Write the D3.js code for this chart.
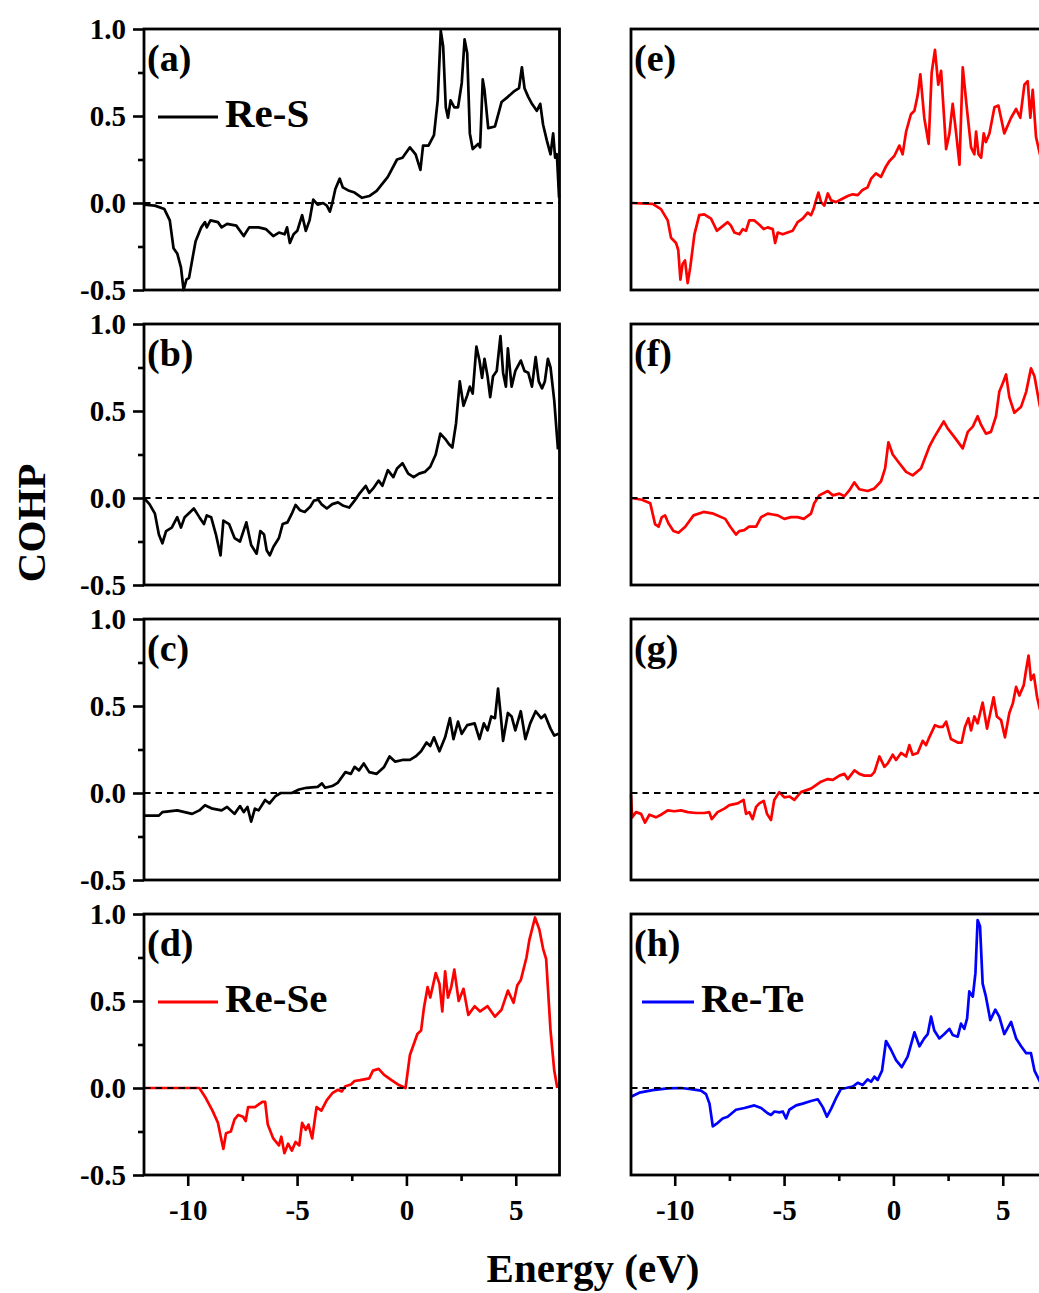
<!DOCTYPE html>
<html>
<head>
<meta charset="utf-8">
<script src="https://cdn.jsdelivr.net/npm/d3@7"></script>
<style>
body { margin: 0; background: #fff; overflow: hidden; }
text { font-family: "Liberation Serif", "Times New Roman", serif; font-weight: bold; fill: #000; }
</style>
</head>
<body>
<svg id="chart"></svg>
<script>
let width = 1039;
let height = 1293;

// layout of the 4x2 grid of panels
let colLeft = [144, 631];
let plotWidth = 415.5;
let rowTop = [29, 324, 619, 914];
let plotHeight = 261;

// axes
let xDomain = [-12, 7];
let yDomain = [-0.5, 1.0];
let xMajor = [-10, -5, 0, 5];
let xMinor = [-7.5, -2.5, 2.5];
let yMajor = [-0.5, 0, 0.5, 1.0];
let yMinor = [-0.25, 0.25, 0.75];

let panelLabels = ["(a)", "(b)", "(c)", "(d)", "(e)", "(f)", "(g)", "(h)"];
let panelColors = ["#000000", "#000000", "#000000", "#ff0000", "#ff0000", "#ff0000", "#ff0000", "#0000ff"];
let legendNames = {0: "Re-S", 3: "Re-Se", 7: "Re-Te"};

// COHP curves, [energy (eV), COHP]
let cohpA = [[-12,-0.01],[-11.5,-0.015],[-11.07,-0.035],[-10.82,-0.10],[-10.65,-0.26],[-10.48,-0.29],[-10.31,-0.37],[-10.19,-0.50],[-10.06,-0.44],[-9.94,-0.43],[-9.8,-0.33],[-9.64,-0.22],[-9.38,-0.14],[-9.21,-0.11],[-9.13,-0.14],[-8.96,-0.10],[-8.62,-0.11],[-8.45,-0.14],[-8.2,-0.12],[-7.78,-0.13],[-7.44,-0.19],[-7.19,-0.14],[-6.76,-0.14],[-6.43,-0.15],[-6.09,-0.19],[-5.83,-0.17],[-5.57,-0.18],[-5.46,-0.14],[-5.33,-0.23],[-5.16,-0.18],[-4.99,-0.16],[-4.77,-0.07],[-4.6,-0.16],[-4.43,-0.10],[-4.26,0.02],[-4.06,-0.01],[-3.81,0.0],[-3.64,-0.015],[-3.5,-0.05],[-3.39,0.0],[-3.25,0.08],[-3.05,0.14],[-2.91,0.09],[-2.62,0.07],[-2.37,0.06],[-2.03,0.03],[-1.7,0.04],[-1.36,0.07],[-0.85,0.15],[-0.43,0.25],[-0.18,0.26],[0.16,0.32],[0.42,0.28],[0.64,0.19],[0.76,0.33],[1.01,0.33],[1.26,0.39],[1.43,0.59],[1.57,0.99],[1.68,0.90],[1.8,0.55],[1.9,0.49],[2.02,0.59],[2.19,0.55],[2.36,0.55],[2.53,0.69],[2.66,0.94],[2.78,0.86],[2.9,0.40],[3.03,0.31],[3.29,0.34],[3.37,0.32],[3.49,0.71],[3.57,0.65],[3.74,0.43],[4.05,0.44],[4.35,0.58],[4.64,0.61],[4.9,0.64],[5.15,0.66],[5.28,0.78],[5.4,0.66],[5.57,0.61],[5.74,0.57],[5.96,0.53],[6.12,0.57],[6.25,0.45],[6.42,0.36],[6.59,0.28],[6.71,0.40],[6.8,0.26],[6.88,0.28],[6.98,0.03]];

let cohpB = [[-12,0],[-11.75,-0.035],[-11.5,-0.09],[-11.32,-0.21],[-11.16,-0.26],[-10.99,-0.19],[-10.73,-0.17],[-10.48,-0.11],[-10.31,-0.17],[-10.14,-0.11],[-9.97,-0.09],[-9.72,-0.06],[-9.47,-0.11],[-9.26,-0.15],[-9.13,-0.10],[-8.93,-0.11],[-8.71,-0.21],[-8.5,-0.33],[-8.37,-0.13],[-8.11,-0.15],[-7.86,-0.23],[-7.61,-0.25],[-7.32,-0.14],[-7.1,-0.27],[-6.85,-0.32],[-6.68,-0.19],[-6.51,-0.21],[-6.39,-0.30],[-6.25,-0.33],[-6.08,-0.28],[-5.83,-0.23],[-5.66,-0.15],[-5.44,-0.14],[-5.24,-0.09],[-5.07,-0.04],[-4.87,-0.07],[-4.65,-0.08],[-4.4,-0.05],[-4.23,-0.015],[-4.03,-0.01],[-3.89,-0.035],[-3.64,-0.06],[-3.39,-0.035],[-3.13,-0.025],[-2.88,-0.045],[-2.62,-0.055],[-2.37,-0.015],[-2.12,0.03],[-1.86,0.07],[-1.7,0.03],[-1.49,0.06],[-1.27,0.10],[-1.1,0.07],[-0.85,0.16],[-0.6,0.12],[-0.43,0.17],[-0.18,0.20],[0.08,0.14],[0.33,0.12],[0.58,0.14],[0.84,0.15],[1.09,0.18],[1.34,0.25],[1.55,0.37],[1.77,0.34],[1.94,0.31],[2.1,0.29],[2.27,0.43],[2.44,0.67],[2.61,0.53],[2.78,0.59],[2.9,0.64],[3.03,0.60],[3.2,0.87],[3.34,0.79],[3.46,0.69],[3.57,0.80],[3.71,0.70],[3.83,0.58],[3.96,0.70],[4.13,0.73],[4.3,0.93],[4.42,0.72],[4.55,0.64],[4.64,0.86],[4.81,0.64],[4.98,0.73],[5.23,0.79],[5.4,0.73],[5.57,0.72],[5.74,0.64],[5.91,0.81],[6.05,0.67],[6.2,0.63],[6.33,0.67],[6.47,0.80],[6.59,0.75],[6.76,0.56],[6.93,0.28]];

let cohpC = [[-12,-0.13],[-11.32,-0.13],[-11.16,-0.11],[-10.48,-0.10],[-10.14,-0.11],[-9.8,-0.12],[-9.47,-0.10],[-9.21,-0.07],[-8.87,-0.09],[-8.45,-0.10],[-8.2,-0.08],[-7.86,-0.12],[-7.61,-0.075],[-7.44,-0.11],[-7.27,-0.08],[-7.1,-0.165],[-6.93,-0.09],[-6.76,-0.10],[-6.46,-0.04],[-6.26,-0.06],[-6.0,-0.02],[-5.75,0.0],[-5.24,0.0],[-4.91,0.02],[-4.57,0.03],[-4.06,0.035],[-3.86,0.055],[-3.72,0.03],[-3.39,0.04],[-3.13,0.06],[-2.79,0.12],[-2.54,0.11],[-2.37,0.15],[-2.17,0.13],[-1.95,0.17],[-1.7,0.12],[-1.36,0.11],[-1.02,0.15],[-0.77,0.21],[-0.51,0.18],[-0.18,0.19],[0.16,0.19],[0.42,0.21],[0.67,0.24],[0.92,0.29],[1.09,0.27],[1.26,0.32],[1.51,0.24],[1.77,0.32],[1.99,0.43],[2.15,0.31],[2.36,0.41],[2.53,0.34],[2.78,0.39],[3.12,0.40],[3.34,0.31],[3.54,0.40],[3.71,0.36],[3.88,0.44],[4.05,0.43],[4.19,0.60],[4.31,0.45],[4.42,0.30],[4.64,0.46],[4.81,0.44],[4.98,0.36],[5.23,0.47],[5.44,0.31],[5.66,0.40],[5.91,0.47],[6.16,0.43],[6.33,0.45],[6.59,0.37],[6.76,0.33],[6.96,0.34]];

let cohpD = [[-12,0],[-9.47,0],[-9.21,-0.05],[-8.87,-0.13],[-8.62,-0.20],[-8.49,-0.28],[-8.37,-0.35],[-8.25,-0.26],[-8.03,-0.25],[-7.86,-0.18],[-7.69,-0.155],[-7.47,-0.165],[-7.35,-0.19],[-7.24,-0.11],[-6.93,-0.11],[-6.59,-0.08],[-6.46,-0.08],[-6.34,-0.21],[-6.09,-0.29],[-5.83,-0.33],[-5.72,-0.28],[-5.58,-0.375],[-5.41,-0.32],[-5.24,-0.36],[-5.07,-0.31],[-4.9,-0.33],[-4.77,-0.20],[-4.6,-0.24],[-4.48,-0.21],[-4.31,-0.29],[-4.11,-0.11],[-3.89,-0.13],[-3.64,-0.07],[-3.39,-0.03],[-3.13,-0.01],[-2.96,-0.02],[-2.79,0.01],[-2.54,0.02],[-2.37,0.04],[-2.12,0.045],[-1.7,0.055],[-1.53,0.10],[-1.27,0.11],[-1.02,0.075],[-0.68,0.045],[-0.34,0.017],[-0.04,0.0],[0.16,0.19],[0.36,0.26],[0.5,0.31],[0.67,0.33],[0.8,0.46],[0.97,0.58],[1.09,0.52],[1.34,0.66],[1.51,0.60],[1.64,0.44],[1.77,0.67],[1.9,0.52],[2.05,0.58],[2.19,0.68],[2.39,0.50],[2.61,0.57],[2.83,0.42],[3.12,0.47],[3.37,0.44],[3.71,0.47],[4.05,0.41],[4.35,0.45],[4.64,0.56],[4.9,0.49],[5.07,0.59],[5.23,0.62],[5.49,0.75],[5.62,0.85],[5.88,0.98],[6.08,0.91],[6.25,0.80],[6.39,0.74],[6.59,0.33],[6.76,0.10],[6.9,0.0]];

let cohpE = [[-12,0],[-11.01,-0.005],[-10.63,-0.035],[-10.32,-0.10],[-10.17,-0.20],[-9.94,-0.23],[-9.84,-0.27],[-9.74,-0.44],[-9.64,-0.35],[-9.53,-0.33],[-9.41,-0.46],[-9.29,-0.37],[-9.1,-0.18],[-8.88,-0.07],[-8.65,-0.065],[-8.34,-0.09],[-8.07,-0.16],[-7.88,-0.14],[-7.58,-0.11],[-7.43,-0.13],[-7.27,-0.17],[-7.04,-0.18],[-6.89,-0.15],[-6.74,-0.16],[-6.59,-0.10],[-6.36,-0.10],[-6.13,-0.125],[-5.93,-0.15],[-5.75,-0.14],[-5.52,-0.15],[-5.41,-0.23],[-5.29,-0.17],[-5.06,-0.18],[-4.84,-0.17],[-4.61,-0.16],[-4.38,-0.11],[-4.15,-0.09],[-3.92,-0.055],[-3.77,-0.07],[-3.65,-0.035],[-3.54,0.015],[-3.43,0.06],[-3.31,0.005],[-3.16,-0.015],[-3.0,0.055],[-2.85,0.015],[-2.63,0.005],[-2.4,0.02],[-2.09,0.04],[-1.86,0.05],[-1.63,0.045],[-1.41,0.075],[-1.18,0.09],[-1.02,0.14],[-0.8,0.17],[-0.57,0.15],[-0.34,0.21],[-0.19,0.24],[0.04,0.27],[0.27,0.33],[0.42,0.28],[0.58,0.41],[0.8,0.51],[0.96,0.53],[1.11,0.62],[1.23,0.74],[1.41,0.49],[1.61,0.34],[1.75,0.75],[1.9,0.88],[2.05,0.68],[2.18,0.76],[2.41,0.31],[2.56,0.40],[2.71,0.57],[2.86,0.41],[3.02,0.22],[3.17,0.78],[3.37,0.53],[3.55,0.32],[3.7,0.28],[3.78,0.41],[3.89,0.28],[4.01,0.26],[4.13,0.40],[4.23,0.35],[4.39,0.40],[4.62,0.55],[4.8,0.56],[5.07,0.40],[5.38,0.49],[5.61,0.54],[5.8,0.49],[5.99,0.68],[6.14,0.70],[6.26,0.49],[6.37,0.65],[6.52,0.38],[6.7,0.28],[7.0,0.20]];

let cohpF = [[-12,0],[-11.5,-0.01],[-11.12,-0.03],[-10.9,-0.15],[-10.74,-0.165],[-10.59,-0.11],[-10.44,-0.10],[-10.29,-0.145],[-10.06,-0.19],[-9.83,-0.20],[-9.52,-0.165],[-9.14,-0.10],[-8.68,-0.08],[-8.23,-0.09],[-7.69,-0.12],[-7.46,-0.165],[-7.2,-0.21],[-7.05,-0.19],[-6.82,-0.185],[-6.6,-0.165],[-6.28,-0.165],[-6.05,-0.11],[-5.75,-0.09],[-5.52,-0.095],[-5.29,-0.10],[-4.99,-0.12],[-4.68,-0.11],[-4.38,-0.11],[-4.1,-0.12],[-3.77,-0.09],[-3.62,-0.03],[-3.39,0.015],[-3.0,0.04],[-2.77,0.015],[-2.47,0.025],[-2.24,0.01],[-2.01,0.045],[-1.79,0.09],[-1.56,0.05],[-1.18,0.04],[-0.87,0.055],[-0.57,0.095],[-0.38,0.17],[-0.23,0.32],[-0.03,0.25],[0.27,0.20],[0.58,0.15],[0.88,0.13],[1.26,0.17],[1.64,0.295],[1.87,0.35],[2.3,0.44],[2.48,0.40],[2.79,0.35],[3.17,0.285],[3.4,0.38],[3.63,0.41],[3.85,0.47],[4.01,0.42],[4.23,0.37],[4.46,0.38],[4.69,0.47],[4.84,0.61],[5.0,0.66],[5.15,0.71],[5.3,0.58],[5.53,0.49],[5.84,0.525],[6.07,0.61],[6.29,0.745],[6.45,0.70],[6.7,0.525],[7.0,0.45]];

let cohpG = [[-12,-0.01],[-11.95,-0.14],[-11.77,-0.11],[-11.54,-0.12],[-11.36,-0.17],[-11.16,-0.125],[-10.86,-0.14],[-10.63,-0.125],[-10.32,-0.10],[-10.02,-0.105],[-9.71,-0.10],[-9.41,-0.11],[-9.03,-0.115],[-8.65,-0.115],[-8.42,-0.11],[-8.31,-0.15],[-8.04,-0.11],[-7.73,-0.09],[-7.5,-0.07],[-7.12,-0.06],[-6.85,-0.04],[-6.74,-0.12],[-6.59,-0.11],[-6.44,-0.15],[-6.28,-0.08],[-6.13,-0.06],[-5.93,-0.045],[-5.78,-0.12],[-5.6,-0.155],[-5.45,-0.04],[-5.22,0.005],[-4.99,-0.025],[-4.76,-0.02],[-4.53,-0.04],[-4.23,0.005],[-3.77,0.025],[-3.31,0.065],[-3.0,0.08],[-2.77,0.075],[-2.47,0.10],[-2.24,0.11],[-2.09,0.08],[-1.78,0.13],[-1.56,0.11],[-1.33,0.10],[-1.02,0.10],[-0.87,0.12],[-0.64,0.21],[-0.41,0.15],[-0.26,0.17],[-0.03,0.22],[0.12,0.19],[0.35,0.23],[0.58,0.21],[0.73,0.275],[0.88,0.22],[1.11,0.23],[1.34,0.30],[1.49,0.275],[1.64,0.32],[1.9,0.39],[2.1,0.38],[2.25,0.38],[2.41,0.41],[2.63,0.31],[2.94,0.29],[3.12,0.29],[3.27,0.38],[3.43,0.43],[3.55,0.36],[3.7,0.44],[3.85,0.40],[4.08,0.52],[4.28,0.37],[4.43,0.46],[4.58,0.55],[4.73,0.44],[4.92,0.42],[5.1,0.32],[5.3,0.46],[5.46,0.515],[5.61,0.61],[5.76,0.56],[5.96,0.62],[6.07,0.71],[6.18,0.79],[6.29,0.65],[6.42,0.68],[6.57,0.55],[6.7,0.48],[7.0,0.42]];

let cohpH = [[-12,-0.05],[-11.62,-0.027],[-11.01,-0.012],[-10.32,-0.002],[-9.71,0.0],[-9.26,-0.006],[-8.8,-0.015],[-8.57,-0.035],[-8.41,-0.09],[-8.26,-0.22],[-8.03,-0.20],[-7.81,-0.175],[-7.58,-0.165],[-7.2,-0.125],[-6.81,-0.115],[-6.36,-0.10],[-6.05,-0.115],[-5.75,-0.145],[-5.6,-0.155],[-5.44,-0.135],[-5.22,-0.14],[-5.06,-0.135],[-4.91,-0.175],[-4.76,-0.125],[-4.45,-0.10],[-4.15,-0.09],[-3.77,-0.075],[-3.46,-0.065],[-3.23,-0.11],[-3.04,-0.165],[-2.85,-0.12],[-2.63,-0.06],[-2.4,-0.005],[-2.17,0.0],[-1.86,0.008],[-1.63,0.03],[-1.41,0.017],[-1.18,0.05],[-1.02,0.036],[-0.87,0.065],[-0.72,0.046],[-0.52,0.10],[-0.34,0.27],[-0.11,0.22],[0.12,0.16],[0.38,0.12],[0.65,0.18],[0.96,0.32],[1.19,0.24],[1.41,0.285],[1.57,0.31],[1.72,0.41],[1.87,0.33],[2.1,0.285],[2.33,0.31],[2.56,0.34],[2.71,0.305],[2.94,0.295],[3.09,0.37],[3.24,0.34],[3.37,0.40],[3.47,0.555],[3.63,0.525],[3.75,0.66],[3.85,0.965],[3.96,0.93],[4.08,0.60],[4.23,0.525],[4.43,0.39],[4.66,0.45],[4.84,0.41],[5.07,0.31],[5.38,0.38],[5.61,0.285],[5.84,0.24],[6.07,0.20],[6.29,0.20],[6.45,0.10],[6.7,0.036],[7.0,0.0]];

let panelData = [cohpA, cohpB, cohpC, cohpD, cohpE, cohpF, cohpG, cohpH];

let svg = d3.select("#chart")
    .attr("width", width)
    .attr("height", height);

let fmtY = d => d.toFixed(1);
let fmtX = d => String(d);

panelData.forEach((data, i) => {
    let col = Math.floor(i / 4);
    let row = i % 4;
    let x0 = colLeft[col];
    let y0 = rowTop[row];

    let xScale = d3.scaleLinear().domain(xDomain).range([x0, x0 + plotWidth]);
    let yScale = d3.scaleLinear().domain(yDomain).range([y0 + plotHeight, y0]);

    let g = svg.append("g").attr("class", "panel");

    // y ticks only on the left column
    if (col === 0) {
        g.append("g")
            .attr("class", "axis")
            .attr("transform", "translate(" + x0 + ",0)")
            .call(d3.axisLeft(yScale).tickValues(yMajor).tickSize(11).tickPadding(7).tickFormat(fmtY));
        g.append("g")
            .attr("class", "axis minor")
            .attr("transform", "translate(" + x0 + ",0)")
            .call(d3.axisLeft(yScale).tickValues(yMinor).tickSize(6).tickFormat(""));
    }

    // x ticks only on the bottom row
    if (row === 3) {
        g.append("g")
            .attr("class", "axis")
            .attr("transform", "translate(0," + (y0 + plotHeight) + ")")
            .call(d3.axisBottom(xScale).tickValues(xMajor).tickSize(11).tickPadding(13).tickFormat(fmtX));
        g.append("g")
            .attr("class", "axis minor")
            .attr("transform", "translate(0," + (y0 + plotHeight) + ")")
            .call(d3.axisBottom(xScale).tickValues(xMinor).tickSize(6).tickFormat(""));
    }

    let line = d3.line()
        .x(d => xScale(d[0]))
        .y(d => yScale(d[1]));

    g.append("path")
        .datum(data)
        .attr("d", line)
        .attr("fill", "none")
        .attr("stroke", panelColors[i])
        .attr("stroke-width", 2.7)
        .attr("stroke-linejoin", "round");

    // zero line
    g.append("line")
        .attr("x1", xScale(xDomain[0]))
        .attr("x2", xScale(xDomain[1]))
        .attr("y1", yScale(0))
        .attr("y2", yScale(0))
        .attr("stroke", "#000")
        .attr("stroke-width", 1.8)
        .attr("stroke-dasharray", "6.5,5");

    g.append("rect")
        .attr("x", x0)
        .attr("y", y0)
        .attr("width", plotWidth)
        .attr("height", plotHeight)
        .attr("fill", "none")
        .attr("stroke", "#000")
        .attr("stroke-width", 2.8);

    g.append("text")
        .attr("x", x0 + 3)
        .attr("y", y0 + 42)
        .style("font-size", "38px")
        .text(panelLabels[i]);

    if (legendNames[i] !== undefined) {
        let lx = col === 0 ? x0 + 14 : x0 + 11;
        let len = col === 0 ? 60 : 52;
        g.append("line")
            .attr("x1", lx)
            .attr("x2", lx + len)
            .attr("y1", y0 + 88)
            .attr("y2", y0 + 88)
            .attr("stroke", panelColors[i])
            .attr("stroke-width", 2.8);
        g.append("text")
            .attr("x", lx + len + 7)
            .attr("y", y0 + 98)
            .style("font-size", "41px")
            .text(legendNames[i]);
    }
});

svg.selectAll(".axis .domain").remove();
svg.selectAll(".axis line").attr("stroke", "#000").attr("stroke-width", 2.6);
svg.selectAll(".axis text")
    .attr("fill", "#000")
    .style("font-size", "29px")
    .style("font-family", "'Liberation Serif', 'Times New Roman', serif")
    .style("font-weight", "bold");

// axis titles
svg.append("text")
    .attr("transform", "translate(45,523) rotate(-90)")
    .attr("text-anchor", "middle")
    .style("font-size", "41px")
    .text("COHP");

svg.append("text")
    .attr("x", 593)
    .attr("y", 1282)
    .attr("text-anchor", "middle")
    .style("font-size", "41px")
    .text("Energy (eV)");
</script>
</body>
</html>
